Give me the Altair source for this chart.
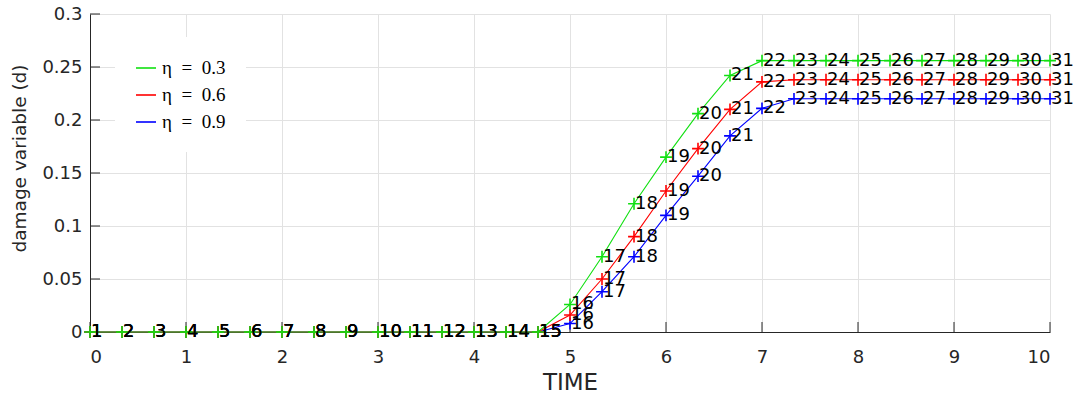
import altair as alt
import pandas as pd

# ---- data ----
time = [0, 0.3333, 0.6667, 1, 1.3333, 1.6667, 2, 2.3333, 2.6667, 3,
        3.3333, 3.6667, 4, 4.3333, 4.6667, 5, 5.3333, 5.6667, 6, 6.3333,
        6.6667, 7, 7.3333, 7.6667, 8, 8.3333, 8.6667, 9, 9.3333, 9.6667, 10]
step_labels = [str(i) for i in range(1, 32)]

d_eta03 = [0] * 15 + [0.026, 0.071, 0.121, 0.165, 0.206, 0.242, 0.256,
                      0.256, 0.256, 0.256, 0.256, 0.256, 0.256, 0.256, 0.256, 0.256]
d_eta06 = [0] * 15 + [0.016, 0.050, 0.090, 0.133, 0.173, 0.210, 0.236,
                      0.238, 0.238, 0.238, 0.238, 0.238, 0.238, 0.238, 0.238, 0.238]
d_eta09 = [0] * 15 + [0.008, 0.038, 0.071, 0.110, 0.147, 0.185, 0.211,
                      0.220, 0.220, 0.220, 0.220, 0.220, 0.220, 0.220, 0.220, 0.220]

series_names = ["η\u2002=\u20020.3", "η\u2002=\u20020.6", "η\u2002=\u20020.9"]
series_colors = ["#11e011", "#ff0000", "#0000ff"]
series_values = [d_eta03, d_eta06, d_eta09]

x_ticks = [0, 1, 2, 3, 4, 5, 6, 7, 8, 9, 10]
y_ticks = [0, 0.05, 0.1, 0.15, 0.2, 0.25, 0.3]

rows = []
for name, vals in zip(series_names, series_values):
    for t, v, lab in zip(time, vals, step_labels):
        rows.append({"time": t, "d": v, "eta": name, "lab": lab})
df = pd.DataFrame(rows)

W, H = 960, 318
FONT = "DejaVu Sans"
DARK = "#262626"

xs = alt.Scale(domain=[0, 10], nice=False)
ys = alt.Scale(domain=[0, 0.3], nice=False)
cs = alt.Scale(domain=series_names, range=series_colors)

x_enc = alt.X("time:Q", scale=xs, axis=alt.Axis(
    values=x_ticks, title="TIME", format="~g", grid=True, ticks=False,
    labelPadding=16, titleY=50, titleBaseline="middle", titleFontSize=23))
y_enc = alt.Y("d:Q", scale=ys, axis=alt.Axis(
    values=y_ticks, title="damage variable (d)", format="~g", grid=True, ticks=False,
    labelPadding=8, titleX=-71, titleY=144, titleBaseline="middle",
    titleAlign="center", titleAngle=-90, titleFontSize=18.5))

base = alt.Chart(df)

layers = []
# draw blue first, green last (green ends up on top)
for name in reversed(series_names):
    sub = base.transform_filter(alt.datum.eta == name)
    line = sub.mark_line(strokeWidth=1.1).encode(
        x=x_enc, y=y_enc,
        color=alt.Color("eta:N", scale=cs, title=None,
                        legend=alt.Legend(orient="none", legendX=25, legendY=23,
                                          symbolType="stroke", symbolSize=400,
                                          symbolStrokeWidth=1.6, labelFont="Liberation Serif",
                                          labelFontSize=19, labelColor="black",
                                          labelOffset=5, rowPadding=6, padding=20,
                                          fillColor="white")))
    pts = sub.mark_point(shape="M-1,0L1,0M0,-1L0,1", size=140, filled=False,
                         strokeWidth=1.6, opacity=1).encode(
        x="time:Q", y="d:Q", color=alt.Color("eta:N", scale=cs))
    txt = sub.mark_text(align="left", baseline="middle", dx=1, font=FONT,
                        fontSize=18, color="black").encode(
        x="time:Q", y="d:Q", text="lab:N")
    layers += [line, pts, txt]

xt = alt.Chart(pd.DataFrame({"v": x_ticks})).mark_rule(color=DARK, strokeWidth=1).encode(
    x=alt.X("v:Q", scale=xs), y=alt.value(H), y2=alt.value(H - 10))
yt = alt.Chart(pd.DataFrame({"v": y_ticks})).mark_rule(color=DARK, strokeWidth=1).encode(
    y=alt.Y("v:Q", scale=ys), x=alt.value(0), x2=alt.value(10))

chart = alt.layer(xt, yt, *layers).properties(
    width=W, height=H,
    autosize=alt.AutoSizeParams(type="none"),
    padding={"left": 90, "top": 14, "right": 27, "bottom": 68},
).configure_view(stroke=None).configure_axis(
    labelFont=FONT, labelFontSize=18, labelColor=DARK,
    titleFont=FONT, titleFontWeight="normal", titleColor=DARK,
    gridColor="#e2e2e2", domainColor=DARK, domainWidth=1,
)

chart.save("out.html", embed_options={"renderer": "svg", "actions": False})
